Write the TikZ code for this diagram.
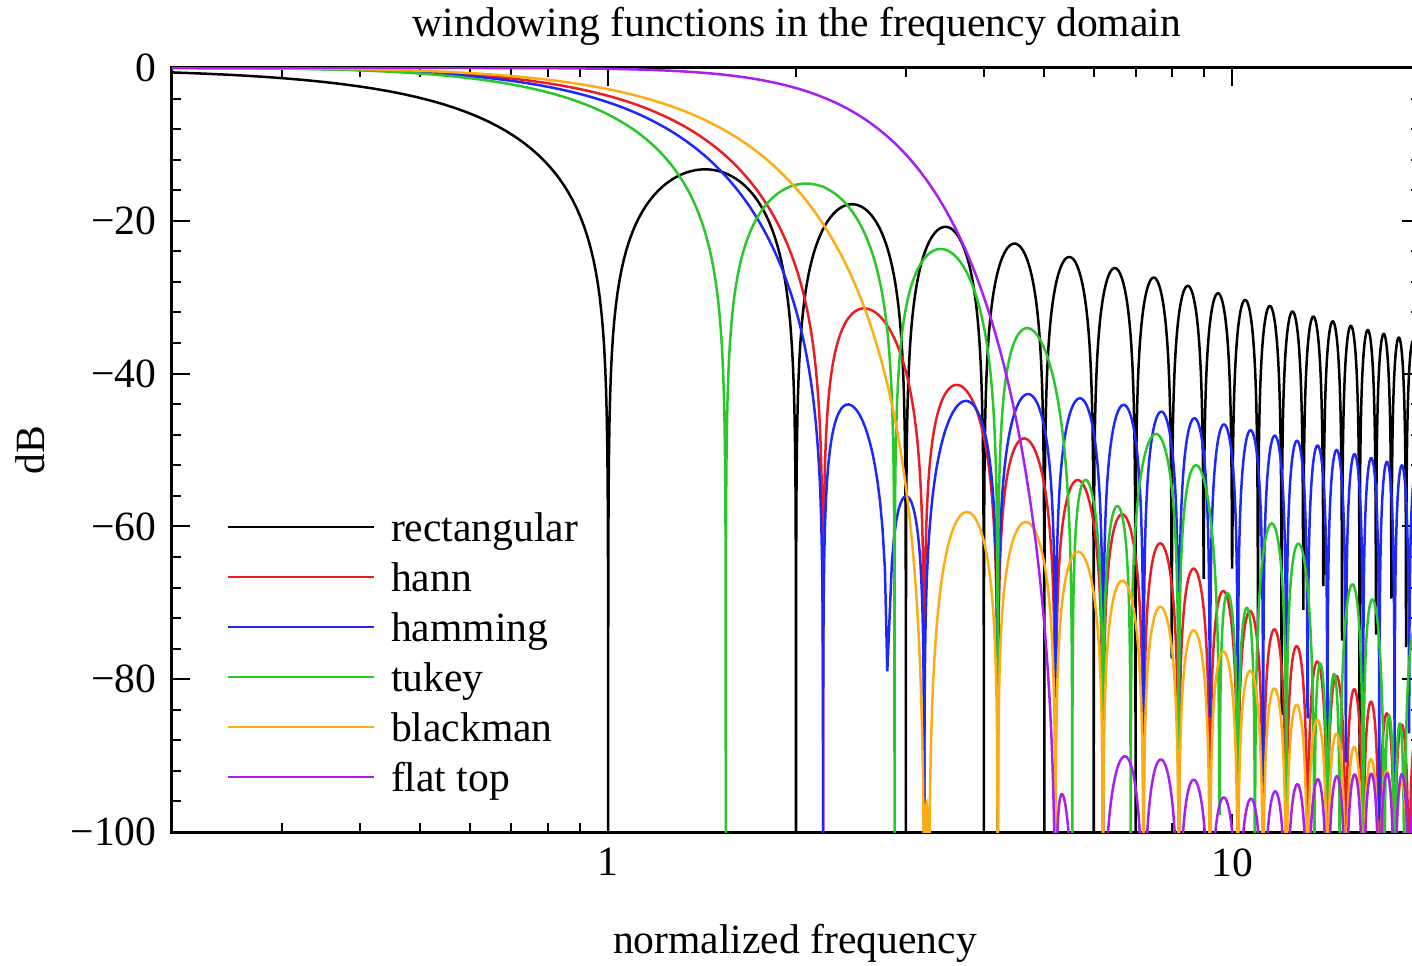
\documentclass[tikz,border=0pt]{standalone}
\usepackage{fontspec}
\setmainfont{Liberation Serif}
\usepackage{pgfplots}
\pgfplotsset{compat=1.18}
\definecolor{winred}{RGB}{232,30,36}
\definecolor{winblue}{RGB}{30,40,250}
\definecolor{wingreen}{RGB}{40,200,40}
\definecolor{winorange}{RGB}{255,172,20}
\definecolor{winpurple}{RGB}{168,32,240}
\newcommand{\winfont}{\fontsize{20.8}{25}\selectfont}

\begin{document}
\begin{tikzpicture}[
      wline/.style={line width=1.25pt},
      legline/.style={line width=1pt},
      lab/.style={font=\winfont, inner sep=0pt}
  ]
  \useasboundingbox (-86pt,-66.5pt) rectangle (620pt,416pt);
  \begin{axis}[
      at={(0pt,0pt)}, anchor=south west,
      scale only axis, width=624pt, height=382pt,
      xmode=log, xmin=0.2, xmax=20, ymin=-100, ymax=0,
      xtick={1,10}, xticklabels={1,10},
      minor xtick={0.3,0.4,0.5,0.6,0.7,0.8,0.9,2,3,4,5,6,7,8,9},
      ytick={-100,-80,-60,-40,-20,0},
      yticklabels={−100,−80,−60,−40,−20,0},
      minor y tick num=4,
      xtick pos=both, ytick pos=both,
      xticklabel pos=lower, yticklabel pos=left,
      tick align=inside,
      major tick length=9pt, minor tick length=4.5pt,
      tick style={black, line width=1pt},
      axis line style={line width=1.5pt},
      xticklabel style={font=\winfont, inner sep=0pt, anchor=north, yshift=-8pt},
      yticklabel style={font=\winfont, inner sep=0pt, anchor=east, xshift=-7.5pt},
      domain=-0.02:19.8, samples=1600,
      declare function={
        % sample points packed round the nulls between lo and 8
        cl(\fq,\lo)=\fq-min(1,min(max(0,8-\fq),max(0,\fq-\lo)))*sin(360*\fq)/(2*pi);
        clt(\fq)=\fq-min(1,max(0,8-\fq))*sin(270*\fq)*2/(3*pi);
        sincf(\fq)=(abs(\fq)<0.01) ? 1 : sin(180*\fq)/(pi*\fq);
        dB(\fq)=20*log10(max(abs(\fq),1e-7));
        hannW(\fq)=sincf(\fq)/(1-\fq*\fq);
        hammW(\fq)=sincf(\fq)*(0.54-0.08*\fq*\fq)/(0.54*(1-\fq*\fq));
        tukeyW(\fq)=sincf(0.75*\fq)*cos(45*\fq)/(1-0.25*\fq*\fq);
        blackW(\fq)=sincf(\fq)*(1-\fq*\fq/9.33333)/((1-\fq*\fq)*(1-0.25*\fq*\fq));
        flatB(\g)=0.00195312*(\g+3.29079)*(\g-29.081)*(\g-33.1076)
          *(\g-93.1027)/((1-\g)*(4-\g)*(9-\g)*(16-\g));
        flatM(\fq,\b)=sincf(\fq)*sqrt(\b*\b+(\fq>6)*2.5e-7);
        flatW(\fq)=flatM(\fq,flatB(\fq*\fq));
      }
    ]
    % spectra, the tapered ones offset by 0.21
    \addplot[wline, black, domain=0.2:20] ({cl(x,-10)}, {dB(sincf(cl(x,-10)))});
    \addplot[wline, winred] ({cl(x,1)+0.21}, {dB(hannW(cl(x,1)))});
    \addplot[wline, winblue] ({cl(x,1)+0.21}, {dB(hammW(cl(x,1)))});
    \addplot[wline, wingreen] ({clt(x)+0.21}, {dB(tukeyW(clt(x)))});
    \addplot[wline, winorange] ({cl(x,2)+0.21}, {dB(blackW(cl(x,2)))});
    \addplot[wline, winpurple] ({cl(x,4)+0.21}, {dB(flatW(cl(x,4)))});
  \end{axis}

  \node[lab, anchor=base] (title) at (312.5pt,397.5pt) {windowing functions in the frequency domain};
  \node[lab, anchor=base] (xlab) at (311.5pt,-60.5pt) {normalized frequency};
  \node[lab, rotate=90] (ylab) at (-71pt,191pt) {dB};

  % legend
  \foreach \wname/\wcol [count=\i] in {rectangular/black, hann/winred, hamming/winblue,
      tukey/wingreen, blackman/winorange, flat top/winpurple}
    \draw[legline, \wcol] (28pt,{152.5pt-25pt*(\i-1)}) coordinate (leg\i) -- ++(73pt,0pt)
      node[lab, text=black, anchor=base west, xshift=8pt, yshift=-7.2pt] (legtext\i) {\wname};
\end{tikzpicture}
\end{document}
